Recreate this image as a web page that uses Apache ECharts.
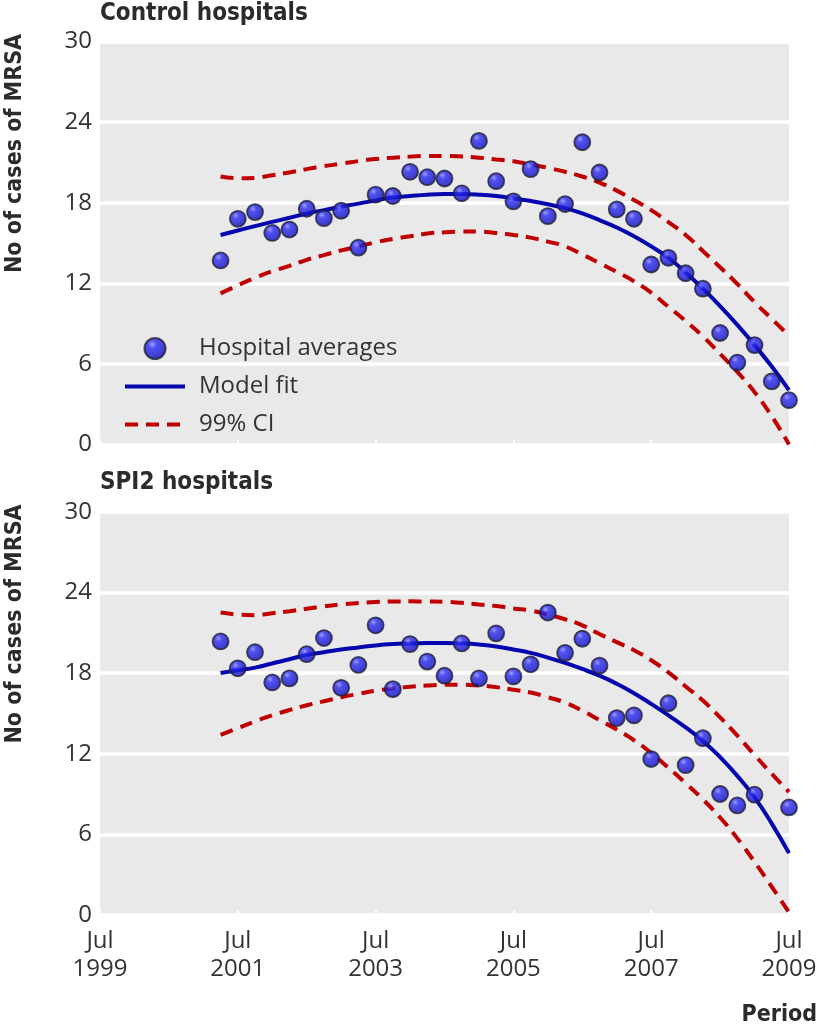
<!DOCTYPE html>
<html><head><meta charset="utf-8">
<script src="https://cdn.jsdelivr.net/npm/echarts@6/dist/echarts.min.js"></script>
<style>html,body{margin:0;padding:0;background:#fff}#c{width:820px;height:1032px}</style>
</head><body><div id="c"></div>
<script>
// months since Jul 1999 (quarterly observations)
const months = [21,24,27,30,33,36,39,42,45,48,51,54,57,60,63,66,69,72,75,78,81,84,87,90,93,96,99,102,105,108,111,114,117,120];
const xTickLabels = ['Jul\n1999','Jul\n2001','Jul\n2003','Jul\n2005','Jul\n2007','Jul\n2009'];
const yTicks = [0,6,12,18,24,30];
const panelTitles = ['Control hospitals','SPI2 hospitals'];
const yAxisTitle = 'No of cases of MRSA';
const xAxisTitle = 'Period';

// Control hospitals
const controlAvg = [13.7,16.8,17.3,15.75,16.0,17.55,16.85,17.4,14.65,18.6,18.5,20.3,19.9,19.8,18.7,22.6,19.6,18.1,20.5,17.0,17.9,22.5,20.25,17.5,16.8,13.4,13.9,12.75,11.6,8.3,6.1,7.4,4.7,3.3];
const controlFit = [15.6,15.93,16.26,16.57,16.88,17.2,17.45,17.7,17.93,18.17,18.38,18.5,18.6,18.64,18.64,18.6,18.5,18.33,18.12,17.88,17.6,17.2,16.7,16.15,15.5,14.75,13.9,12.8,11.6,10.3,8.9,7.4,5.8,4.05];
const controlUpper = [19.95,19.82,19.85,20.05,20.25,20.5,20.72,20.9,21.1,21.25,21.35,21.43,21.48,21.48,21.44,21.35,21.22,21.08,20.85,20.6,20.3,19.95,19.5,18.9,18.2,17.45,16.55,15.6,14.4,13.2,11.95,10.6,9.35,8.1];
const controlLower = [11.25,11.85,12.4,12.9,13.3,13.75,14.1,14.45,14.75,15.05,15.3,15.5,15.7,15.8,15.85,15.85,15.75,15.6,15.4,15.1,14.75,14.15,13.5,12.85,12.15,11.3,10.25,9.2,8.05,6.75,5.4,3.9,2.1,0];

// SPI2 hospitals
const spi2Avg = [20.35,18.35,19.55,17.3,17.6,19.4,20.6,16.9,18.6,21.55,16.8,20.15,18.85,17.8,20.2,17.6,20.95,17.75,18.65,22.5,19.5,20.55,18.55,14.65,14.85,11.6,15.75,11.15,13.15,9.0,8.15,8.95,null,8.0];
const spi2Fit = [18.0,18.2,18.4,18.71,19.02,19.35,19.55,19.75,19.9,20.05,20.15,20.2,20.23,20.24,20.22,20.12,19.97,19.75,19.5,19.15,18.75,18.3,17.8,17.2,16.5,15.7,14.85,13.95,12.95,11.75,10.35,8.75,6.8,4.6];
const spi2Upper = [22.5,22.35,22.3,22.45,22.6,22.78,22.95,23.1,23.2,23.28,23.32,23.33,23.32,23.3,23.22,23.1,22.98,22.8,22.65,22.35,22.0,21.55,20.9,20.3,19.7,18.95,18.05,17.0,15.95,14.7,13.35,11.9,10.5,9.15];
const spi2Lower = [13.4,13.9,14.4,14.85,15.25,15.6,15.9,16.2,16.45,16.68,16.85,16.98,17.07,17.12,17.12,17.07,16.95,16.75,16.55,16.2,15.8,15.2,14.5,13.8,13.0,12.05,10.95,9.8,8.6,7.25,5.7,3.95,2.1,0.2];

const pairs = vals => months.map((m,i)=>[m, vals[i]]).filter(p => p[1] !== null);

const TICK_FONT = "'Open Sans', 'Noto Sans', sans-serif";
const BOLD_FONT = "'Liberation Sans Narrow', 'DejaVu Sans Condensed', sans-serif";
const BLUE = '#0606b0';
const RED = '#c00000';

const ballStyle = {
  color: {type:'radial', x:0.38, y:0.32, r:0.75,
    colorStops:[{offset:0,color:'#8a8aff'},{offset:0.25,color:'#2a2af2'},{offset:0.75,color:'#1212c6'},{offset:1,color:'#080880'}]},
  borderColor:'#222232', borderWidth:1.8
};

function panel(idx, avg, fit, upper, lower){
  return [
    {name:'99% CI', type:'line', xAxisIndex:idx, yAxisIndex:idx, data:pairs(upper), smooth:true, symbol:'none',
      lineStyle:{color:RED, width:4, type:[13,8]}, itemStyle:{color:RED}, z:2, silent:true},
    {name:'99% CI', type:'line', xAxisIndex:idx, yAxisIndex:idx, data:pairs(lower), smooth:true, symbol:'none',
      lineStyle:{color:RED, width:4, type:[13,8]}, itemStyle:{color:RED}, z:2, silent:true},
    {name:'Model fit', type:'line', xAxisIndex:idx, yAxisIndex:idx, data:pairs(fit), smooth:true, symbol:'none',
      lineStyle:{color:BLUE, width:4}, itemStyle:{color:BLUE}, z:3, silent:true},
    {name:'Hospital averages', type:'scatter', xAxisIndex:idx, yAxisIndex:idx, data:pairs(avg), symbol:'circle',
      symbolSize:16, itemStyle:ballStyle, z:4, silent:true}
  ];
}

function xAxis(idx, showLabels){
  return {type:'value', gridIndex:idx, min:0, max:120, interval:24,
    axisLine:{show:false},
    axisTick:{show:true, inside:true, length:5, lineStyle:{color:'#ffffff', width:2}},
    splitLine:{show:false},
    axisLabel:{show:showLabels, formatter:v=>xTickLabels[Math.round(v/24)], fontFamily:TICK_FONT, fontSize:24,
      color:'#333333', lineHeight:28, margin:12, showMinLabel:true, showMaxLabel:true}};
}
function yAxis(idx){
  return {type:'value', gridIndex:idx, min:0, max:30, interval:6,
    axisLine:{show:false}, axisTick:{show:false},
    splitLine:{show:true, lineStyle:{color:'#ffffff', width:3.5}},
    axisLabel:{formatter:v=>String(yTicks[Math.round(v/6)]), fontFamily:TICK_FONT, fontSize:24, color:'#333333', margin:8}};
}

const chart = echarts.init(document.getElementById('c'), null, {renderer:'canvas'});
chart.setOption({
  animation:false,
  backgroundColor:'#ffffff',
  grid:[
    {left:100, right:31, top:41.5, height:403, show:true, backgroundColor:'#e9e9e9', borderWidth:0},
    {left:100, right:31, top:511.7, height:403.3, show:true, backgroundColor:'#e9e9e9', borderWidth:0}
  ],
  xAxis:[xAxis(0,false), xAxis(1,true)],
  yAxis:[yAxis(0), yAxis(1)],
  legend:{
    orient:'vertical', left:118, top:330, itemWidth:60, itemHeight:21, itemGap:11,
    selectedMode:false,
    lineStyle:{width:4},
    data:[
      {name:'Hospital averages'},
      {name:'Model fit', itemStyle:{opacity:0}, lineStyle:{width:4}},
      {name:'99% CI', itemStyle:{opacity:0}, lineStyle:{width:4, type:[13,8]}}
    ],
    textStyle:{fontFamily:TICK_FONT, fontSize:24, color:'#333333', lineHeight:27, padding:[0,0,0,9]}
  },
  graphic:[
    {type:'text', left:100, top:2, style:{text:panelTitles[0], font:"bold 24px " + BOLD_FONT, fill:'#2b2b2b'}},
    {type:'text', left:100, top:471, style:{text:panelTitles[1], font:"bold 24px " + BOLD_FONT, fill:'#2b2b2b'}},
    {type:'text', x:15, y:153.5, rotation:Math.PI/2, style:{text:yAxisTitle, font:"bold 23px " + BOLD_FONT, fill:'#2b2b2b', align:'center', verticalAlign:'middle'}},
    {type:'text', x:15, y:624, rotation:Math.PI/2, style:{text:yAxisTitle, font:"bold 23px " + BOLD_FONT, fill:'#2b2b2b', align:'center', verticalAlign:'middle'}},
    {type:'text', x:817, y:1015, style:{text:xAxisTitle, font:"bold 23px " + BOLD_FONT, fill:'#2b2b2b', align:'right', verticalAlign:'middle'}}
  ],
  series:[].concat(
    panel(0, controlAvg, controlFit, controlUpper, controlLower),
    panel(1, spi2Avg, spi2Fit, spi2Upper, spi2Lower)
  )
});
</script>
</body></html>
